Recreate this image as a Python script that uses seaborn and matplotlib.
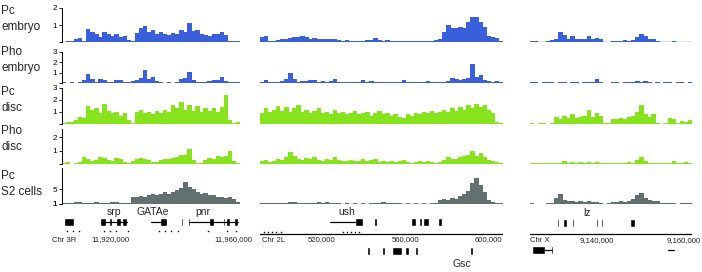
import numpy as np
import matplotlib
matplotlib.use("Agg")
import matplotlib.pyplot as plt
import seaborn as sns

# ChIP signal, one value per bin, left to right in each region (0 = no data)
pc_embryo_3r = [0.02, 0.03, 0.08, 0.2, 0.25, 0.05, 0.75, 0.6, 0.45, 0.3, 0.6, 0.5, 0.35, 0.45, 0.3,
                0.35, 0.1, 0.05, 0.55, 0.8, 0.95, 0.6, 0.7, 0.5, 0.6, 0.45, 0.4, 0.55, 0.5, 0.7,
                0.6, 1.1, 0.65, 0.7, 0.45, 0.4, 0.35, 0.5, 0.45, 0.6, 0.4, 0.08, 0.05, 0.08]
pc_embryo_2l = [0.3, 0.35, 0.05, 0.03, 0.12, 0.2, 0.15, 0.25, 0.3, 0.28, 0.35, 0.3, 0.2, 0.25, 0.15,
                0.2, 0.15, 0.18, 0.2, 0.12, 0.08, 0.1, 0.05, 0.08, 0.05, 0.07, 0.1, 0.12, 0.25, 0.1,
                0.08, 0.12, 0.05, 0.08, 0.04, 0.06, 0.03, 0.05, 0.04, 0.06, 0.04, 0.05, 0.08, 0.1, 0.2,
                0.6, 1.0, 0.85, 0.8, 0.9, 0.85, 1.2, 1.5, 1.45, 1.2, 0.9, 0.35, 0.3, 0.25, 0.05]
pc_embryo_x = [0.05, 0.08, 0.02, 0.02, 0.05, 0.12, 0.2, 0.6, 0.4, 0.2, 0.35, 0.15, 0.2, 0.2, 0.35,
               0.15, 0.25, 0.2, 0.02, 0.02, 0.03, 0.08, 0.05, 0.1, 0.08, 0.12, 0.3, 0.5, 0.35, 0.2,
               0.15, 0.05, 0.02, 0.02, 0.02, 0.08, 0.02, 0.02, 0.02, 0.02]

pho_embryo_3r = [0.05, 0, 0.05, 0, 0.08, 0.3, 0.9, 0.35, 0.05, 0.35, 0.25, 0.05, 0.05, 0.25, 0.3,
                 0.05, 0.05, 0.2, 0.3, 0.5, 1.3, 0.4, 0.6, 0.15, 0.05, 0, 0.05, 0, 0.08, 0.4,
                 0.5, 1.1, 0.3, 0.05, 0.05, 0.1, 0.2, 0.25, 0.3, 0.6, 0.15, 0.05, 0.05, 0.05]
pho_embryo_2l = [0.1, 0.3, 0.1, 0.08, 0.1, 0.15, 0.4, 1.0, 0.4, 0.1, 0.2, 0.15, 0.3, 0.25, 0.1,
                 0.15, 0.1, 0.2, 0.35, 0.1, 0.05, 0.08, 0.05, 0.1, 0.05, 0.3, 0.05, 0.2, 0.05, 0.08,
                 0.05, 0.05, 0.05, 0.05, 0.1, 0.25, 0.05, 0.05, 0.05, 0.05, 0.08, 0.15, 0.05, 0.05, 0.08,
                 0.1, 0.2, 0.45, 0.35, 0.3, 0.4, 0.5, 1.85, 0.6, 0.8, 0.3, 0.2, 0.1, 0.15, 0.05]
pho_embryo_x = [0.05, 0.1, 0, 0.05, 0.1, 0.05, 0, 0.05, 0.05, 0, 0.05, 0.05, 0, 0.05, 0.05,
                0.1, 0.35, 0.05, 0, 0, 0.05, 0.05, 0, 0.05, 0.1, 0.08, 0.15, 0.12, 0.15, 0.05,
                0, 0.05, 0, 0.08, 0.05, 0, 0.08, 0.05, 0, 0.05]

pc_disc_3r = [0.1, 0.15, 0.2, 0.3, 0.6, 0.5, 1.5, 1.2, 1.3, 0.9, 1.7, 1.1, 0.9, 1.0, 0.7,
              0.9, 0.3, 0.1, 1.0, 1.2, 0.9, 1.0, 0.8, 1.1, 0.9, 1.2, 1.0, 1.6, 1.3, 1.85,
              1.2, 1.6, 1.1, 1.5, 1.0, 1.3, 1.1, 1.3, 1.0, 1.4, 2.4, 0.3, 0.1, 0.15]
pc_disc_2l = [0.9, 1.3, 1.0, 1.2, 1.5, 1.1, 1.4, 1.0, 1.3, 1.6, 1.0, 1.2, 0.9, 1.1, 1.3,
              0.9, 1.0, 0.8, 1.2, 0.9, 1.0, 0.8, 0.9, 1.1, 0.8, 0.9, 1.0, 0.7, 0.9, 1.1,
              0.8, 0.9, 0.7, 0.8, 0.6, 0.5, 0.8, 0.7, 0.9, 0.8, 1.0, 0.9, 1.1, 0.9, 1.0,
              1.2, 1.0, 1.3, 1.1, 1.4, 1.2, 1.6, 1.3, 1.7, 1.4, 1.6, 1.2, 0.9, 0.2, 0.1]
pc_disc_x = [0.05, 0, 0.05, 0.05, 0, 0.05, 0.6, 0.45, 0.7, 0.5, 0.8, 0.5, 0.55, 0.7, 1.15,
             0.6, 0.9, 0.7, 0.05, 0.05, 0.4, 0.45, 0.5, 0.4, 0.55, 0.7, 1.0, 1.6, 0.8, 0.6,
             0.8, 0.1, 0, 0.05, 0.5, 0.4, 0.05, 0.25, 0.2, 0.3]

pho_disc_3r = [0.1, 0.15, 0, 0.1, 0.15, 0.55, 0.35, 0.25, 0.3, 0.5, 0.45, 0.3, 0.2, 0.45, 0.35,
               0.15, 0.1, 0.2, 0.35, 0.45, 0.4, 0.3, 0.15, 0.15, 0.3, 0.4, 0.35, 0.45, 0.5, 0.7,
               0.7, 1.1, 0.3, 0.1, 0.05, 0.3, 0.45, 0.35, 0.6, 0.5, 0.6, 0.95, 0.2, 0.1]
pho_disc_2l = [0.2, 0.3, 0.15, 0.2, 0.35, 0.3, 0.5, 0.9, 0.6, 0.4, 0.3, 0.45, 0.35, 0.5, 0.3,
               0.25, 0.4, 0.3, 0.55, 0.3, 0.25, 0.2, 0.3, 0.2, 0.25, 0.4, 0.2, 0.3, 0.35, 0.15,
               0.2, 0.15, 0.25, 0.15, 0.2, 0.3, 0.15, 0.1, 0.15, 0.2, 0.15, 0.25, 0.15, 0.1, 0.15,
               0.3, 0.5, 0.4, 0.35, 0.5, 0.6, 0.7, 1.0, 0.6, 0.8, 0.5, 0.3, 0.2, 0.15, 0.1]
pho_disc_x = [0.05, 0.05, 0.05, 0.05, 0.05, 0.05, 0.05, 0.08, 0.2, 0.05, 0.15, 0.05, 0.15, 0.05, 0.15,
              0.05, 0.15, 0.05, 0.05, 0.05, 0.05, 0.05, 0.05, 0.08, 0.15, 0.1, 0.3, 0.55, 0.25, 0.1,
              0.05, 0.05, 0.05, 0.05, 0.1, 0.2, 0.05, 0.08, 0.15, 0.05]

pc_s2_3r = [1.3, 1.3, 1.4, 1.6, 1.5, 1.3, 1.4, 1.3, 1.6, 1.4, 1.3, 1.4, 1.6, 1.5, 1.3,
            1.2, 1.3, 3.0, 2.8, 3.2, 2.9, 3.4, 3.6, 3.3, 3.8, 4.2, 3.7, 4.3, 4.8, 5.2,
            6.9, 5.6, 5.0, 4.2, 3.6, 3.9, 3.3, 3.5, 2.9, 2.8, 2.6, 2.8, 2.3, 1.5]
pc_s2_2l = [1.3, 1.2, 1.2, 1.3, 1.2, 1.3, 1.3, 1.5, 1.6, 1.3, 1.2, 1.2, 1.2, 1.3, 1.5,
            1.4, 1.6, 1.4, 1.2, 1.2, 1.1, 1.2, 1.1, 1.2, 1.1, 1.2, 1.1, 1.2, 1.2, 1.3,
            1.6, 1.4, 1.2, 1.3, 1.2, 1.1, 1.2, 1.1, 1.2, 1.1, 1.2, 1.1, 1.2, 1.4, 2.0,
            2.3, 2.1, 2.6, 2.4, 3.2, 3.8, 4.5, 6.5, 7.9, 6.0, 4.2, 2.0, 1.6, 1.4, 1.3]
pc_s2_x = [1.3, 0, 0, 0, 1.3, 1.4, 2.5, 3.7, 2.2, 1.9, 1.7, 1.6, 1.7, 1.6, 1.7,
           1.6, 1.5, 1.3, 0, 1.3, 1.5, 1.6, 1.7, 1.6, 1.8, 2.3, 3.4, 4.0, 2.6, 2.0,
           1.8, 1.7, 1.3, 1.4, 1.3, 1.2, 0, 1.2, 1.3, 1.2]

track_names = ["Pc\nembryo", "Pho\nembryo", "Pc\ndisc", "Pho\ndisc", "Pc\nS2 cells"]
track_ticks = [[1, 2], [1, 2, 3], [1, 2, 3], [1, 2], [1, 5]]
signals = [[pc_embryo_3r, pc_embryo_2l, pc_embryo_x],
           [pho_embryo_3r, pho_embryo_2l, pho_embryo_x],
           [pc_disc_3r, pc_disc_2l, pc_disc_x],
           [pho_disc_3r, pho_disc_2l, pho_disc_x],
           [pc_s2_3r, pc_s2_2l, pc_s2_x]]

# genome regions and annotation
regions = [(11904400, 11962300), (490100, 607200), (9124600, 9161800)]
chrom_names = ["Chr 3R", "Chr 2L", "Chr X"]
coord_ticks = [[11920000, 11960000], [520000, 560000, 600000], [9140000, 9160000]]
minor_3r = [11906000, 11908000, 11910000, 11918000, 11920000, 11922000, 11926000,
            11936000, 11938000, 11940000, 11942000, 11952000, 11958000, 11961000]
minor_2l = [492000, 494000, 496000, 498000, 500000, 530000, 532000, 534000, 536000, 538000]

exons_3r = [(11905200, 11908200), (11916900, 11918600), (11919600, 11920800), (11922100, 11923600),
            (11923900, 11925700), (11933200, 11933600), (11936400, 11938400), (11943200, 11943600),
            (11945500, 11945900), (11952300, 11953700), (11956900, 11957300), (11957600, 11959200),
            (11960500, 11961700)]
introns_3r = [(11917100, 11925500), (11933300, 11938200), (11945600, 11961600)]
names_3r = [("srp", 11921300), ("GATAe", 11934000), ("pnr", 11950300)]

exons_2l = [(523700, 524300), (535700, 539900), (544800, 546700), (558800, 559400), (563100, 565500),
            (566500, 568300), (568600, 571300), (575700, 578000)]
introns_2l = [(523800, 536000)]
exons_2l_rev = [(541500, 543300), (546300, 546900), (548700, 550500), (553500, 558700), (559800, 562100),
                (564600, 566400), (572800, 573400), (575200, 575800), (582400, 583100), (591100, 592900)]
names_2l = [("ush", 532000)]
names_2l_rev = [("Gsc", 587500)]

exons_x = [(9130800, 9131200), (9132100, 9133200), (9134300, 9134700), (9139800, 9140200),
           (9140900, 9141300), (9147500, 9148800)]
names_x = [("lz", 9137700)]
exons_x_rev = [(9125100, 9128100), (9129500, 9129800), (9156900, 9157100)]
introns_x_rev = [(9128100, 9129700), (9156400, 9157600)]

sns.set_theme(style="white")
plt.rcParams["font.family"] = ["Liberation Sans", "DejaVu Sans"]

W, H = 702, 272
fig = plt.figure(figsize=(W / 100, H / 100), dpi=100)


def px_axes(x0, x1, y0, y1):
    return fig.add_axes([x0 / W, 1 - y1 / H, (x1 - x0) / W, (y1 - y0) / H])


panel_px = [(62, 240), (260, 503), (530, 692)]
track_px = [(8, 42), (52, 83), (88, 124), (129, 164), (168, 204)]
track_lim = [(0, 2), (0, 3), (0, 3), (0, 2.6), (1, 10.6)]
track_col = ["#3a5fdc", "#3a5fdc", "#86e31c", "#86e31c", "#627070"]
label_y = [19, 60, 100, 139, 184]

for t in range(5):
    for p in range(3):
        ax = px_axes(panel_px[p][0], panel_px[p][1], *track_px[t])
        vals = signals[t][p]
        x = np.arange(len(vals))
        sns.barplot(x=x, y=vals, color=track_col[t], saturation=1,
                    width=1.08, errorbar=None, linewidth=0, ax=ax)
        # thin baseline wherever there is signal
        has = np.array(vals) > 0
        ax.hlines([track_lim[t][0]] * has.sum(), x[has] - 0.55, x[has] + 0.55,
                  color=track_col[t], lw=1.0)
        ax.set_xlim(-0.5, len(vals) - 0.5)
        ax.set_ylim(*track_lim[t])
        ax.set_xlabel("")
        ax.set_ylabel("")
        ax.set_xticks([])
        for s in ["top", "right", "bottom"]:
            ax.spines[s].set_visible(False)
        if p == 0:
            ax.spines["left"].set_color("black")
            ax.spines["left"].set_linewidth(0.7)
            ticks = [track_lim[t][0]] + track_ticks[t]
            ax.set_yticks(ticks)
            ax.set_yticklabels([""] + [str(v) for v in track_ticks[t]]
                               if track_lim[t][0] not in track_ticks[t]
                               else [str(v) for v in ticks])
            ax.tick_params(axis="y", left=True, length=2.5, width=0.6, pad=1,
                           labelsize=5.8, colors="black")
        else:
            ax.spines["left"].set_visible(False)
            ax.set_yticks([])
        ax.patch.set_alpha(0)
    fig.text(1 / W, 1 - label_y[t] / H, track_names[t], ha="left", va="center",
             fontsize=8.5, linespacing=1.35)

# gene annotation and coordinate strip under each region
gene_sets = [
    dict(exons=exons_3r, introns=introns_3r, names=names_3r, rev=[], rev_introns=[], rev_names=[],
         minor=minor_3r, line=False, row=222, name_y=212, dot_y=231, lab_y=240),
    dict(exons=exons_2l, introns=introns_2l, names=names_2l, rev=exons_2l_rev, rev_introns=[],
         rev_names=names_2l_rev, minor=minor_2l, line=True, row=222, name_y=212, dot_y=232, lab_y=240),
    dict(exons=exons_x, introns=[], names=names_x, rev=exons_x_rev, rev_introns=introns_x_rev,
         rev_names=[], minor=[], line=True, row=223, name_y=213, dot_y=232, lab_y=241),
]
chrom_offset = [-10, 2, 0]

for p in range(3):
    g = gene_sets[p]
    lo, hi = regions[p]
    x0, x1 = panel_px[p]
    ax = px_axes(x0, x1, 204, 272)
    ax.set_xlim(lo, hi)
    ax.set_ylim(272, 204)
    ax.axis("off")
    kb_per_px = (hi - lo) / (x1 - x0)

    row = g["row"]
    ax.broken_barh([(a, b - a) for a, b in g["exons"]], (row - 4, 8), facecolor="black")
    for a, b in g["introns"]:
        ax.plot([a, b], [row, row], color="black", lw=0.9)
    for name, pos in g["names"]:
        ax.text(pos, g["name_y"], name, ha="center", va="center", fontsize=7.5)

    rrow = 251 if p == 1 else 250
    if g["rev"]:
        ax.broken_barh([(a, b - a) for a, b in g["rev"]], (rrow - 4, 8), facecolor="black")
    for a, b in g["rev_introns"]:
        ax.plot([a, b], [rrow, rrow], color="black", lw=0.9)
    for name, pos in g["rev_names"]:
        ax.text(pos, 264, name, ha="center", va="center", fontsize=7.5)

    if g["line"]:
        ax.plot([lo, hi], [g["dot_y"] + 1.5, g["dot_y"] + 1.5], color="black", lw=0.9)
    if g["minor"]:
        ax.plot(g["minor"], [g["dot_y"]] * len(g["minor"]), "s", color="black",
                ms=1.0, mew=0)

    ax.text(lo + chrom_offset[p] * kb_per_px, g["lab_y"], chrom_names[p], ha="left",
            va="center", fontsize=5.6, clip_on=False)
    for c in coord_ticks[p]:
        ax.text(c, g["lab_y"], f"{c:,}", ha="center", va="center", fontsize=5.6, clip_on=False)

fig.savefig("out.png", dpi=100)
